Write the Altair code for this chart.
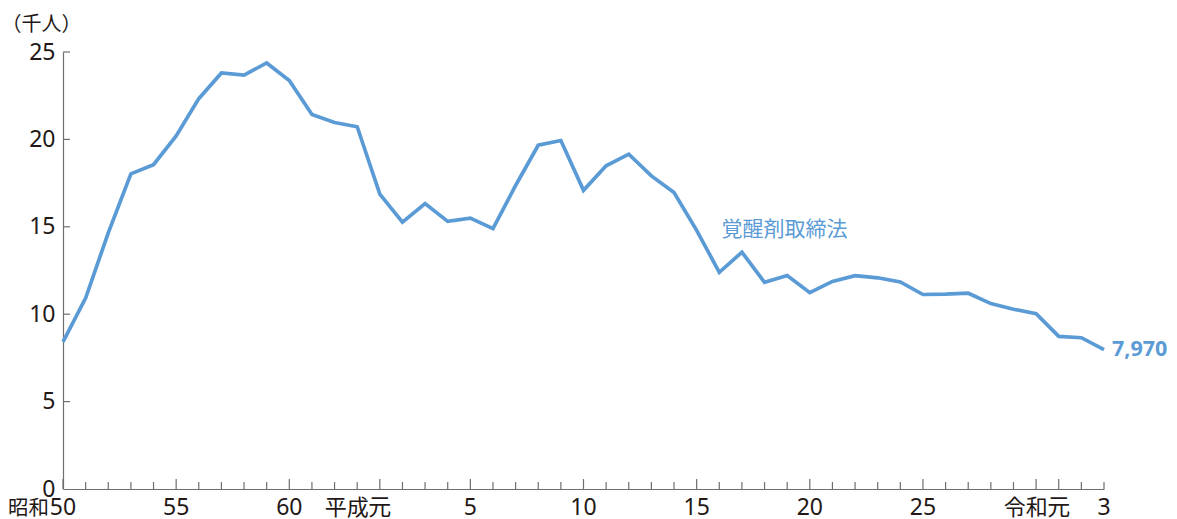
import altair as alt
import pandas as pd

# ---- data ----
years = list(range(1975, 2022))
arrests = [8422, 10919, 14654, 18027, 18553, 20200, 22331, 23797, 23681, 24372,
           23365, 21426, 20966, 20722, 16870, 15267, 16330, 15311, 15495, 14896,
           17364, 19666, 19937, 17084, 18491, 19156, 17912, 16964, 14797, 12397,
           13549, 11821, 12211, 11231, 11873, 12200, 12083, 11842, 11127, 11148,
           11200, 10607, 10284, 10030, 8730, 8654, 7970]
label_years = [1975, 1980, 1985, 1989, 1993, 1998, 2003, 2008, 2013, 2019, 2021]
label_nums = ["50", "55", "60", "元", "5", "10", "15", "20", "25", "元", "3"]
label_prefix = ["昭和", "", "", "平成", "", "", "", "", "", "令和", ""]
major_years = [1975, 1980, 1985, 1989, 1993, 1998, 2003, 2008, 2013, 2018, 2019]
y_values = [0, 5, 10, 15, 20, 25]
y_ticks = [5, 10, 15, 20, 25]
series_name = "覚醒剤取締法"
series_label_year = 2004.1
series_label_value = 14.8

W, H = 1041, 437
BLUE = "#5B9BD5"
AX = "#6E6E6E"
TXT = "#231815"
FONT = "Noto Sans, Noto Sans CJK JP"
JFONT = "Noto Sans CJK JP"

df = pd.DataFrame({"year": years, "arrests": arrests})
df["k"] = df["arrests"] / 1000.0
tick_df = pd.DataFrame({"year": years, "major": [y in major_years for y in years]})
lab_df = pd.DataFrame({"year": label_years, "num": label_nums, "prefix": label_prefix})
ytick_df = pd.DataFrame({"v": y_ticks})

xscale = alt.Scale(domain=[1975, 2021], nice=False, zero=False)
yscale = alt.Scale(domain=[0, 25], nice=False)

x_axis = alt.Axis(domain=True, domainColor=AX, domainWidth=1.2, ticks=False,
                  labels=False, grid=False, title=None)
y_axis = alt.Axis(values=y_values, ticks=False, domain=True, domainColor=AX,
                  domainWidth=1.2, grid=False, labelFont=FONT, labelFontSize=23,
                  labelColor=TXT, labelPadding=8, title="（千人）", titleAngle=0,
                  titleAlign="left", titleBaseline="middle", titleX=-62, titleY=-28,
                  titleFont=JFONT, titleFontSize=20, titleFontWeight="normal",
                  titleColor=TXT)

X = alt.X("year:Q", scale=xscale, axis=x_axis)

line = alt.Chart(df).mark_line(color=BLUE, strokeWidth=3.7).encode(
    x=X, y=alt.Y("k:Q", scale=yscale, axis=y_axis))

minor_ticks = alt.Chart(tick_df).transform_filter("!datum.major").mark_rule(
    color=AX, strokeWidth=1.2).encode(x=X, y=alt.value(H), y2=alt.value(H - 7))
major_ticks = alt.Chart(tick_df).transform_filter("datum.major").mark_rule(
    color=AX, strokeWidth=1.2).encode(x=X, y=alt.value(H), y2=alt.value(H - 10))

yticks = alt.Chart(ytick_df).mark_rule(color=AX, strokeWidth=1.2).encode(
    y=alt.Y("v:Q", scale=yscale, axis=y_axis), x=alt.value(0), x2=alt.value(7))

num_labels = alt.Chart(lab_df).mark_text(
    font=FONT, fontSize=23, color=TXT, align="center", baseline="alphabetic").encode(
    x=X, y=alt.value(H + 26), text="num:N")
showa = alt.Chart(lab_df).transform_filter("datum.prefix == '昭和'").mark_text(
    font=JFONT, fontSize=20.5, color=TXT, align="right", baseline="alphabetic", dx=-14).encode(
    x=X, y=alt.value(H + 26), text="prefix:N")
era = alt.Chart(lab_df).transform_filter(
    "datum.prefix == '平成' || datum.prefix == '令和'").mark_text(
    font=JFONT, fontSize=22, color=TXT, align="right", baseline="alphabetic", dx=-11).encode(
    x=X, y=alt.value(H + 26), text="prefix:N")

series_lab = alt.Chart(pd.DataFrame({"t": [series_name]})).mark_text(
    font=JFONT, fontSize=21, color=BLUE, align="left", baseline="middle").encode(
    x=alt.datum(series_label_year), y=alt.datum(series_label_value), text="t:N")

end_lab = alt.Chart(df).transform_filter("datum.year == 2021").mark_text(
    font=FONT, fontSize=21.5, fontWeight="bold", color=BLUE, align="left",
    baseline="middle", dx=8).encode(
    x=X, y=alt.Y("k:Q", scale=yscale, axis=y_axis),
    text=alt.Text("arrests:Q", format=","))

chart = alt.layer(minor_ticks, major_ticks, yticks, line, num_labels, showa, era,
                  series_lab, end_lab).properties(
    width=W, height=H,
    padding={"left": 55, "top": 44, "right": 65, "bottom": 30},
    autosize=alt.AutoSizeParams(type="none"),
    background="white",
).configure_view(stroke=None)

chart.save("out.html", embed_options={"renderer": "svg", "actions": False})
